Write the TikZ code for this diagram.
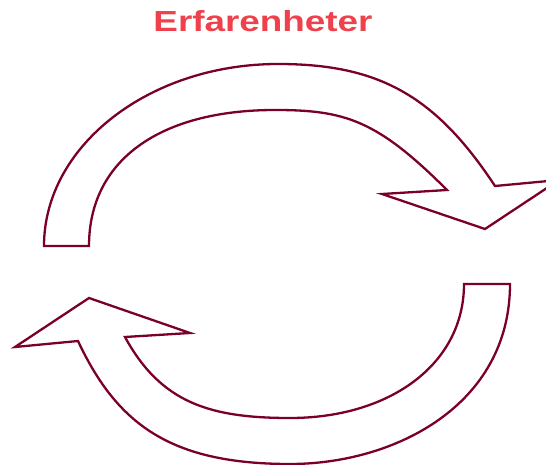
\documentclass[tikz,border=0pt]{standalone}
\usepackage{fontspec}
\setmainfont{Liberation Sans}
\usepackage{tikz}

\definecolor{titlered}{RGB}{238,65,75}
\definecolor{arrowline}{RGB}{122,0,40}

\begin{document}
\begin{tikzpicture}[
    x=1pt, y=-1pt,
    heading/.style={font=\fontsize{29}{35}\selectfont\bfseries, text=titlered, xscale=1.27, inner sep=0pt},
    bentarrow/.style={draw=arrowline, line width=2.3pt, line join=miter, fill=white}
]
\useasboundingbox (0,0) rectangle (546,465);
\clip (0,0) rectangle (546,465);

% Title
\node[heading, anchor=base] (title) at (263,32) {Erfarenheter};

% Upper arrow (left to right)
\draw[bentarrow] (44,246) -- (89,246)
    .. controls (89,160) and (160,110) .. (275,110)
    .. controls (345,110) and (377,120) .. (447,190)
    -- (382,194) -- (485,229) -- (559,180) -- (495,186)
    .. controls (435,95) and (378,64) .. (278,64)
    .. controls (149,64) and (44,146) .. (44,246)
    -- cycle;

% Lower arrow (right to left)
\draw[bentarrow] (464,284) -- (510,284)
    .. controls (510,405) and (395,464) .. (290,464)
    .. controls (170,464) and (117,424) .. (78,341)
    -- (15,347) -- (89,298) -- (190,333) -- (125,337)
    .. controls (161,403) and (210,418) .. (290,418)
    .. controls (390,418) and (464,364) .. (464,284)
    -- cycle;
\end{tikzpicture}
\end{document}
